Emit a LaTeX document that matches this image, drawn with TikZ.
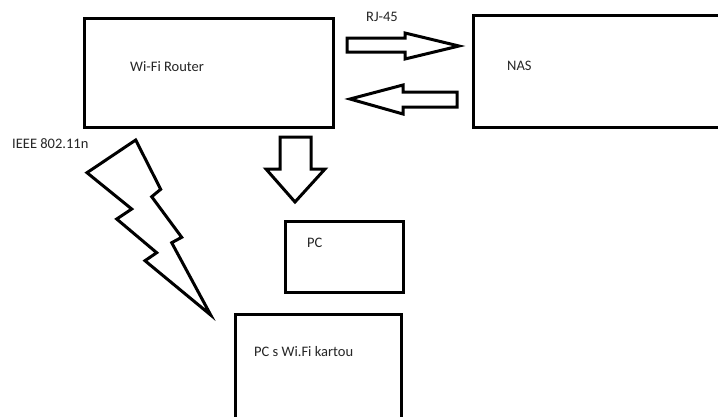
\documentclass[tikz,border=0pt]{standalone}
\usepackage{fontspec}
\setmainfont{Carlito}
\begin{document}
\begin{tikzpicture}[x=1pt,y=-1pt,
  box/.style={draw=black,line width=3pt,anchor=north west,inner sep=0pt},
  lbl/.style={anchor=west,inner sep=0pt,text=black!85,font=\fontsize{14.5}{17}\selectfont},
  blockarrow/.style={draw=black,line width=3pt,line join=miter,fill=white}]
\useasboundingbox (0,0) rectangle (718,416);
\clip (0,0) rectangle (718,416);
\fill[white] (0,0) rectangle (718,416);
% boxes
\node[box,minimum width=249pt,minimum height=109pt] (router) at (83,17) {};
\node[box,minimum width=260pt,minimum height=112pt] (nas) at (472,14) {};
\node[box,minimum width=118pt,minimum height=71pt] (pc) at (284,220) {};
\node[box,minimum width=166pt,minimum height=120pt] (wpc) at (234,313) {};
% labels
\node[lbl] (trouter) at (130,67) {Wi-Fi Router};
\node[lbl] (tnas) at (507,66) {NAS};
\node[lbl] (tpc) at (307,243) {PC};
\node[lbl] (twpc) at (254,352) {PC s Wi.Fi kartou};
\node[lbl] (trj) at (366,17) {RJ-45};
\node[lbl] (tieee) at (12,144) {IEEE 802.11n};
% right block arrow (router -> NAS)
\draw[blockarrow] (347,38) -- (405,38) -- (405,33) -- (459,46) -- (405,59) -- (405,52) -- (347,52) -- cycle;
% left block arrow (NAS -> router)
\draw[blockarrow] (457,92) -- (403,92) -- (403,85) -- (350,99) -- (403,114) -- (403,107) -- (457,107) -- cycle;
% down block arrow (router -> PC)
\draw[blockarrow] (280,137) -- (311,137) -- (311,169) -- (325,169) -- (295,202) -- (266,169) -- (280,169) -- cycle;
% lightning bolt
\draw[blockarrow] (135.7,140) -- (87,172.7) -- (131.7,209) -- (116.7,219) -- (156.7,252.7) -- (145,260.7) -- (210.7,315) -- (171.7,242.7) -- (181.7,237.3) -- (151.7,196.7) -- (160.7,189.3) -- cycle;
\end{tikzpicture}
\end{document}
